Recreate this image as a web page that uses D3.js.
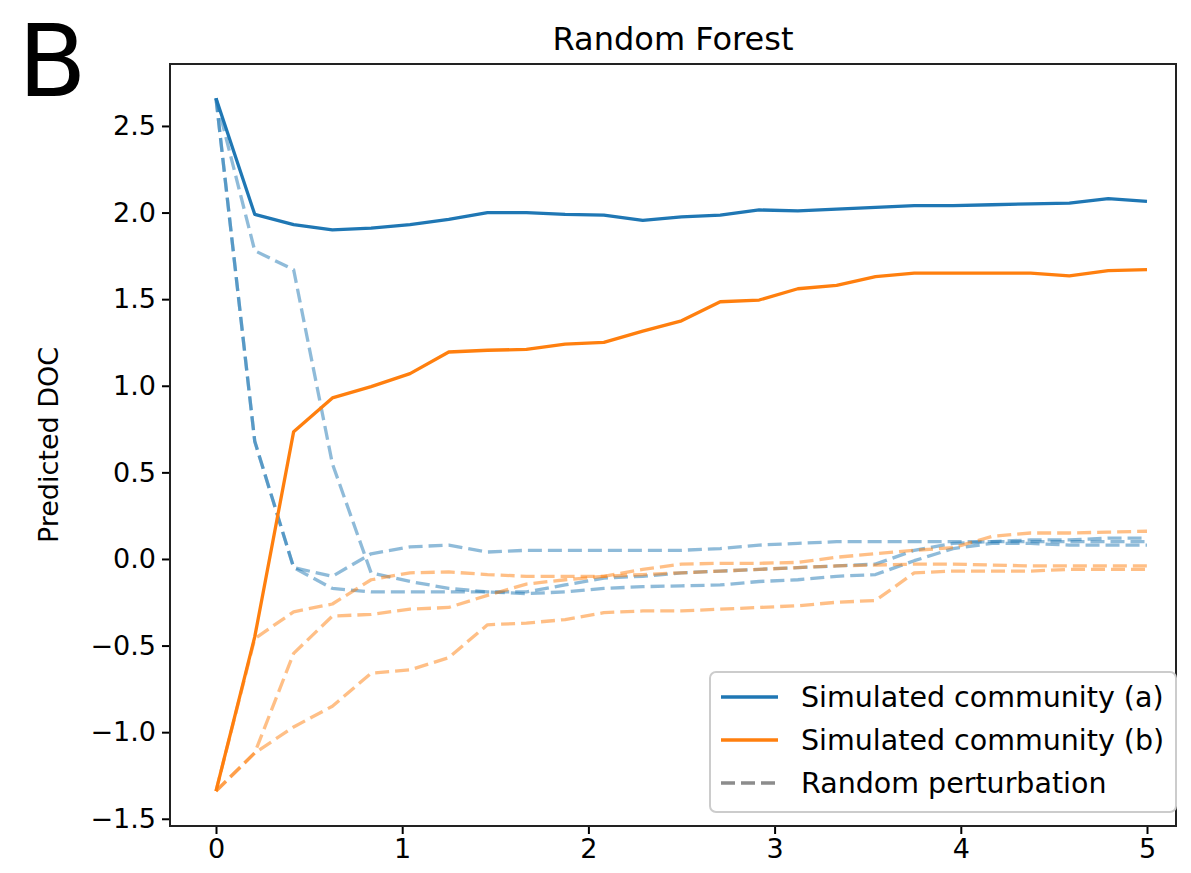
<!DOCTYPE html>
<html>
<head>
<meta charset="utf-8">
<script src="https://cdn.jsdelivr.net/npm/d3@7"></script>
<style>
  html, body { margin: 0; padding: 0; background: #fff; }
  svg { display: block; }
  text { font-family: "DejaVu Sans", sans-serif; fill: #000; }
</style>
</head>
<body>
<svg id="chart" width="1191" height="873"></svg>
<script>
// Perturbation time steps (x axis)
const steps = [0.000, 0.208, 0.417, 0.625, 0.833, 1.042, 1.250, 1.458, 1.667, 1.875,
               2.083, 2.292, 2.500, 2.708, 2.917, 3.125, 3.333, 3.542, 3.750, 3.958,
               4.167, 4.375, 4.583, 4.792, 5.000];

// Simulated community (a)
const communityA = [2.66, 1.99, 1.93, 1.90, 1.91, 1.93, 1.96, 2.00, 2.00, 1.99,
                    1.985, 1.955, 1.975, 1.985, 2.015, 2.01, 2.02, 2.03, 2.04, 2.04,
                    2.045, 2.05, 2.055, 2.08, 2.065];

// Simulated community (b)
const communityB = [-1.34, -0.45, 0.735, 0.93, 0.995, 1.07, 1.195, 1.205, 1.21, 1.24,
                    1.25, 1.315, 1.375, 1.485, 1.495, 1.56, 1.58, 1.63, 1.65, 1.65,
                    1.65, 1.65, 1.635, 1.665, 1.67];

// Random perturbations starting from community (a)
const perturbA1 = [2.66, 0.68, -0.05, -0.10, 0.03, 0.07, 0.08, 0.04, 0.05, 0.05,
                   0.05, 0.05, 0.05, 0.06, 0.08, 0.09, 0.10, 0.10, 0.10, 0.10,
                   0.10, 0.11, 0.11, 0.12, 0.12];
const perturbA2 = [2.66, 0.68, -0.05, -0.17, -0.19, -0.19, -0.19, -0.19, -0.20, -0.19,
                   -0.17, -0.16, -0.155, -0.15, -0.13, -0.12, -0.10, -0.09, -0.01, 0.06,
                   0.09, 0.09, 0.08, 0.08, 0.08];
const perturbA3 = [2.66, 1.78, 1.67, 0.55, -0.08, -0.13, -0.17, -0.19, -0.19, -0.15,
                   -0.11, -0.10, -0.08, -0.07, -0.06, -0.05, -0.04, -0.03, 0.05, 0.09,
                   0.10, 0.10, 0.10, 0.10, 0.10];

// Random perturbations starting from community (b)
const perturbB1 = [-1.34, -0.46, -0.305, -0.26, -0.12, -0.08, -0.075, -0.09, -0.10, -0.10,
                   -0.10, -0.06, -0.03, -0.025, -0.025, -0.02, 0.01, 0.03, 0.05, 0.065,
                   0.13, 0.15, 0.15, 0.155, 0.16];
const perturbB2 = [-1.34, -1.12, -0.545, -0.33, -0.32, -0.29, -0.28, -0.21, -0.145, -0.12,
                   -0.10, -0.09, -0.08, -0.07, -0.06, -0.05, -0.04, -0.035, -0.03, -0.03,
                   -0.035, -0.04, -0.04, -0.04, -0.04];
const perturbB3 = [-1.34, -1.12, -0.97, -0.85, -0.66, -0.64, -0.57, -0.38, -0.37, -0.35,
                   -0.31, -0.30, -0.30, -0.29, -0.28, -0.27, -0.25, -0.24, -0.08, -0.07,
                   -0.07, -0.07, -0.06, -0.06, -0.06];

const xTicks = [0, 1, 2, 3, 4, 5];
const yTicks = [-1.5, -1.0, -0.5, 0.0, 0.5, 1.0, 1.5, 2.0, 2.5];

const legendLabels = ["Simulated community (a)", "Simulated community (b)", "Random perturbation"];

const BLUE = "#1f77b4", ORANGE = "#ff7f0e", GREY = "#7f7f7f";

const svg = d3.select("#chart");

const plot = { left: 170, right: 1176, top: 64, bottom: 826 };

// x: 0 → 216 px, 5 → 1147 px; y: 2.5 → 126 px, -1.5 → 818.8 px
const x = d3.scaleLinear().domain([0, 5]).range([216, 1147]);
const y = d3.scaleLinear().domain([-1.54, 2.86]).range([825.7, 63.6]);

const line = d3.line()
  .x((d, i) => x(steps[i]))
  .y(d => y(d));

const lineW = 3.3;
const dash = "14,6";

// dashed perturbation curves
const dashed = [
  { v: perturbA1, c: BLUE }, { v: perturbA2, c: BLUE }, { v: perturbA3, c: BLUE },
  { v: perturbB1, c: ORANGE }, { v: perturbB2, c: ORANGE }, { v: perturbB3, c: ORANGE }
];
svg.append("g").selectAll("path").data(dashed).join("path")
  .attr("d", d => line(d.v))
  .attr("fill", "none")
  .attr("stroke", d => d.c)
  .attr("stroke-opacity", 0.5)
  .attr("stroke-width", lineW)
  .attr("stroke-dasharray", dash)
  .attr("stroke-linejoin", "round");

// solid community curves
svg.append("path").attr("d", line(communityA))
  .attr("fill", "none").attr("stroke", BLUE).attr("stroke-width", lineW)
  .attr("stroke-linejoin", "round");
svg.append("path").attr("d", line(communityB))
  .attr("fill", "none").attr("stroke", ORANGE).attr("stroke-width", lineW)
  .attr("stroke-linejoin", "round");

// axes
const fs = 28.5;
const xAxis = d3.axisBottom(x).tickValues(xTicks).tickFormat(d3.format("d"))
  .tickSize(8).tickPadding(5);
const yAxis = d3.axisLeft(y).tickValues(yTicks)
  .tickFormat(d => d3.format(".1f")(d).replace("-", "\u2212"))
  .tickSize(8).tickPadding(6);

const gx = svg.append("g").attr("transform", `translate(0,${plot.bottom})`).call(xAxis);
const gy = svg.append("g").attr("transform", `translate(${plot.left},0)`).call(yAxis);
[gx, gy].forEach(g => {
  g.select(".domain").remove();
  g.selectAll(".tick line").attr("stroke", "#000").attr("stroke-width", 2);
  g.selectAll(".tick text").attr("font-size", fs - 1.5).attr("font-family", "DejaVu Sans").attr("fill", "#111");
});

// frame
svg.append("path")
  .attr("d", `M${plot.left},${plot.bottom} L${plot.left},${plot.top} L${plot.right},${plot.top} L${plot.right},${plot.bottom} Z`)
  .attr("fill", "none").attr("stroke", "#222").attr("stroke-width", 2);

// titles
svg.append("text").attr("x", (plot.left + plot.right) / 2).attr("y", 50)
  .attr("text-anchor", "middle").attr("font-size", 32).attr("fill", "#111").text("Random Forest");
svg.append("text").attr("x", 18).attr("y", 96)
  .attr("font-family", "Liberation Sans, Arial, sans-serif").attr("font-size", 100).text("B");
svg.append("text")
  .attr("transform", `translate(58,${(plot.top + plot.bottom) / 2}) rotate(-90)`)
  .attr("text-anchor", "middle").attr("font-size", fs - 1.5).attr("fill", "#111").text("Predicted DOC");

// legend
const lg = svg.append("g");
lg.append("rect").attr("x", 710).attr("y", 672).attr("width", 466).attr("height", 140)
  .attr("rx", 6).attr("fill", "#fff").attr("fill-opacity", 0.8)
  .attr("stroke", "#cccccc").attr("stroke-width", 2);
const legendItems = [
  { label: legendLabels[0], c: BLUE, dash: null, op: 1 },
  { label: legendLabels[1], c: ORANGE, dash: null, op: 1 },
  { label: legendLabels[2], c: GREY, dash: dash, op: 0.9 }
];
legendItems.forEach((d, i) => {
  const cy = 697 + i * 43;
  lg.append("line").attr("x1", 721).attr("x2", 778).attr("y1", cy).attr("y2", cy)
    .attr("stroke", d.c).attr("stroke-width", lineW).attr("stroke-opacity", d.op)
    .attr("stroke-dasharray", d.dash);
  lg.append("text").attr("x", 801).attr("y", cy + 10).attr("font-size", fs)
    .attr("fill", "#222").text(d.label);
});
</script>
</body>
</html>
